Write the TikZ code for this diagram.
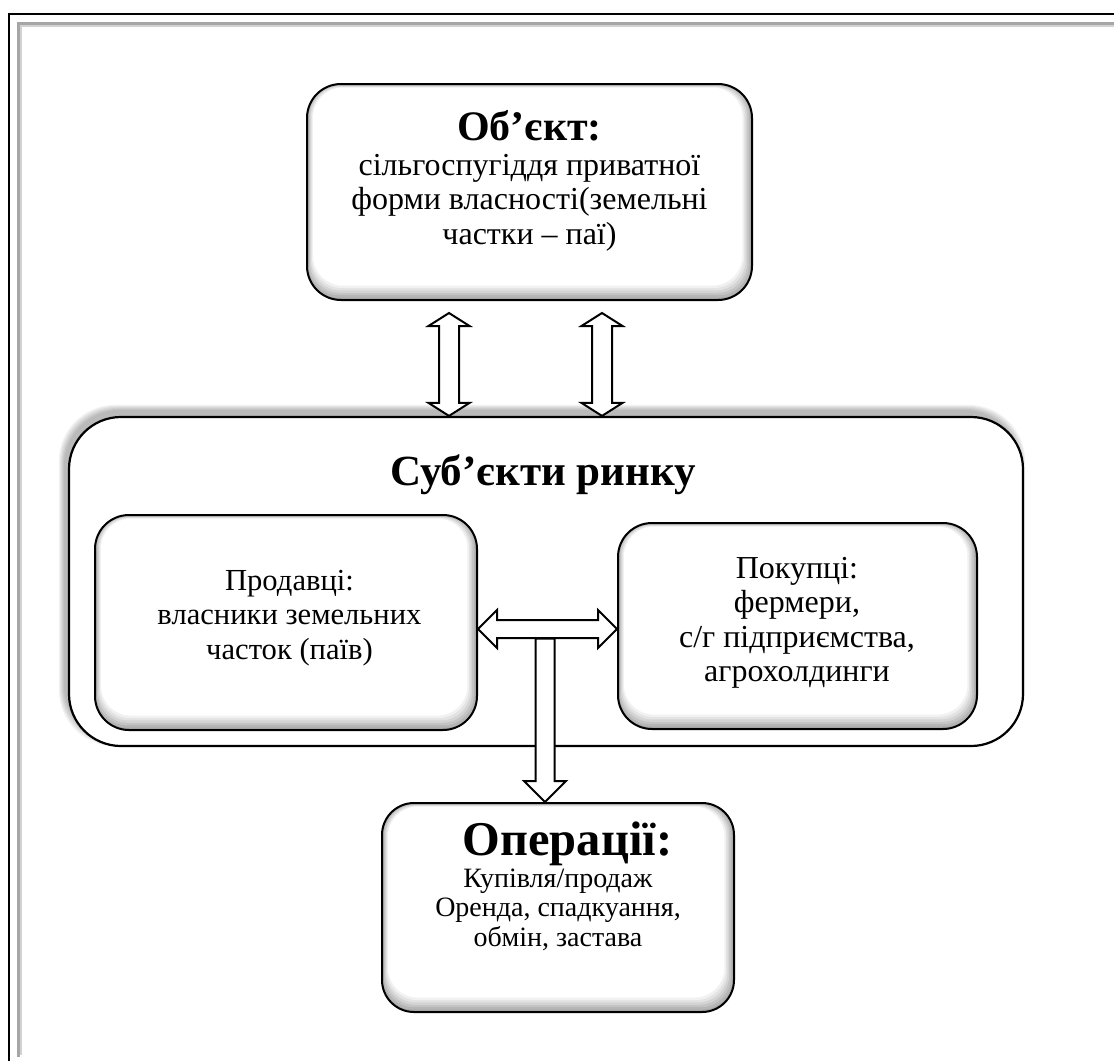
\documentclass[tikz,border=0pt]{standalone}
\usepackage{fontspec}
\setmainfont{Liberation Serif}
\usetikzlibrary{calc,backgrounds}

% fixed line struts for the box texts
\newcommand\bodystrut{\rule[-10.35pt]{0pt}{34.5pt}}
\newcommand\opsstrut{\rule[-8.85pt]{0pt}{29.5pt}}

\tikzset{
  bevelbox/.style={draw=black, line width=2pt, rounded corners=34pt,
    fill=gray!70, inner sep=0pt,
    path picture={
      \foreach \k/\c in {1/58,2/46,3/34,4/22,5/11,6/0}{
        \fill[gray!\c, rounded corners=30pt]
          ($(path picture bounding box.north west)+(1.0*\k,0.6*\k)$)
          rectangle
          ($(path picture bounding box.south east)+(-1.6*\k,-2.4*\k)$);
      }}},
  groupbox/.style={draw=black, line width=2.2pt, rounded corners=52pt,
    fill=white, inner sep=0pt},
  blockarrow/.style={draw=black, fill=white, line width=2pt, line join=miter},
  titletext/.style={font=\fontsize{42}{46}\selectfont\bfseries, anchor=base, inner sep=0pt},
  bodytext/.style={font=\fontsize{32}{34.5}\selectfont, align=center, inner sep=0pt},
  opstext/.style={font=\fontsize{28}{29.5}\selectfont, align=center, inner sep=0pt}
}

\begin{document}
\begin{tikzpicture}[x=1pt,y=-1pt]
\useasboundingbox (0,0) rectangle (1114,1061);

% page border
\draw[black, line width=2pt] (9,1061) -- (9,14) -- (1114,14);
\draw[gray!70, line width=2.5pt] (18.5,1057) -- (18.5,23.5) -- (1114,23.5);
\draw[gray!35, line width=2.5pt] (21,1055) -- (21,26) -- (1114,26);

% object of the market
\node[bevelbox, minimum width=445pt, minimum height=216pt] (obj) at (529.5,192) {};
\node[titletext] (objtitle) at (529.5,140) {Об’єкт:};
\node[bodytext] (objtext) at (529.5,202.6)
  {\bodystrut сільгоспугіддя приватної\\\bodystrut форми власності(земельні\\\bodystrut частки – паї)};

% market participants
\node[groupbox, minimum width=954pt, minimum height=329pt] (subj) at (546,581.5) {};
\begin{pgfonlayer}{background}
  \foreach \k in {0,...,5}{
    \fill[black, opacity=0.05, rounded corners=56pt]
      ($(subj.north west)+(-4-\k,-6-\k)$) rectangle ($(subj.south east)+(-4+\k,-6+\k)$);
  }
\end{pgfonlayer}
\node[font=\fontsize{43}{47}\selectfont\bfseries, anchor=base, inner sep=0pt] (subjtitle) at (543,485) {Суб’єкти ринку};

\node[bevelbox, minimum width=382pt, minimum height=215pt] (sell) at (286,622.5) {};
\node[bodytext, font=\fontsize{30.6}{34.5}\selectfont] (selltext) at (289.5,617.6)
  {\bodystrut Продавці:\\\bodystrut власники земельних\\\bodystrut часток (паїв)};

\node[bevelbox, minimum width=359pt, minimum height=206pt] (buy) at (797.5,626) {};
\node[bodytext] (buytext) at (797,622.9)
  {\bodystrut Покупці:\\\bodystrut фермери,\\\bodystrut с/г підприємства,\\\bodystrut агрохолдинги};

% operations
\node[bevelbox, rounded corners=32pt, minimum width=352pt, minimum height=209pt] (ops) at (558,907.5) {};
\node[titletext, font=\fontsize{48.5}{52}\selectfont\bfseries] (opstitle) at (567.5,855) {Операції:};
\node[opstext] (opsbody) at (558,910.6)
  {\opsstrut Купівля/продаж\\\opsstrut Оренда, спадкуання,\\\opsstrut обмін, застава};

% vertical two-way arrows between the object and the participants
\coordinate (t1) at ([xshift=-80.5pt, yshift=-12pt]obj.south);
\coordinate (b1) at (t1 |- subj.north);
\coordinate (t2) at ([xshift=72.5pt, yshift=-12pt]obj.south);
\coordinate (b2) at (t2 |- subj.north);
\foreach \a/\b in {t1/b1,t2/b2}{
  \draw[blockarrow] let \p1=(\a), \p2=(\b) in
    (\x1,\y1) -- (\x1+20.5pt,\y1-13pt) -- (\x1+10pt,\y1-13pt)
    -- (\x1+10pt,\y2+13pt) -- (\x1+20.5pt,\y2+13pt) -- (\x2,\y2)
    -- (\x1-20.5pt,\y2+13pt) -- (\x1-10pt,\y2+13pt)
    -- (\x1-10pt,\y1-13pt) -- (\x1-20.5pt,\y1-13pt) -- cycle;
}

% horizontal two-way arrow between sellers and buyers
\coordinate (hmid) at (545,629);
\coordinate (hl) at (sell.east |- hmid);
\coordinate (hr) at (buy.west |- hmid);
\draw[blockarrow] let \p1=(hl), \p2=(hr) in
  (\x1,\y1) -- (\x1+19pt,\y1+19pt) -- (\x1+19pt,\y1+9pt)
  -- (\x2-19pt,\y1+9pt) -- (\x2-19pt,\y1+19pt) -- (\x2,\y2)
  -- (\x2-19pt,\y1-19pt) -- (\x2-19pt,\y1-9pt)
  -- (\x1+19pt,\y1-9pt) -- (\x1+19pt,\y1-19pt) -- cycle;

% arrow down to the operations
\coordinate (dtop) at ([yshift=-9.5pt]hmid);
\coordinate (dtip) at (hmid |- ops.north);
\draw[blockarrow] let \p1=(dtop), \p2=(dtip) in
  (\x1-9.5pt,\y1) -- (\x1+9.5pt,\y1) -- (\x1+9.5pt,\y2+21pt)
  -- (\x1+21pt,\y2+21pt) -- (\x2,\y2) -- (\x1-21pt,\y2+21pt)
  -- (\x1-9.5pt,\y2+21pt) -- cycle;
\end{tikzpicture}
\end{document}
